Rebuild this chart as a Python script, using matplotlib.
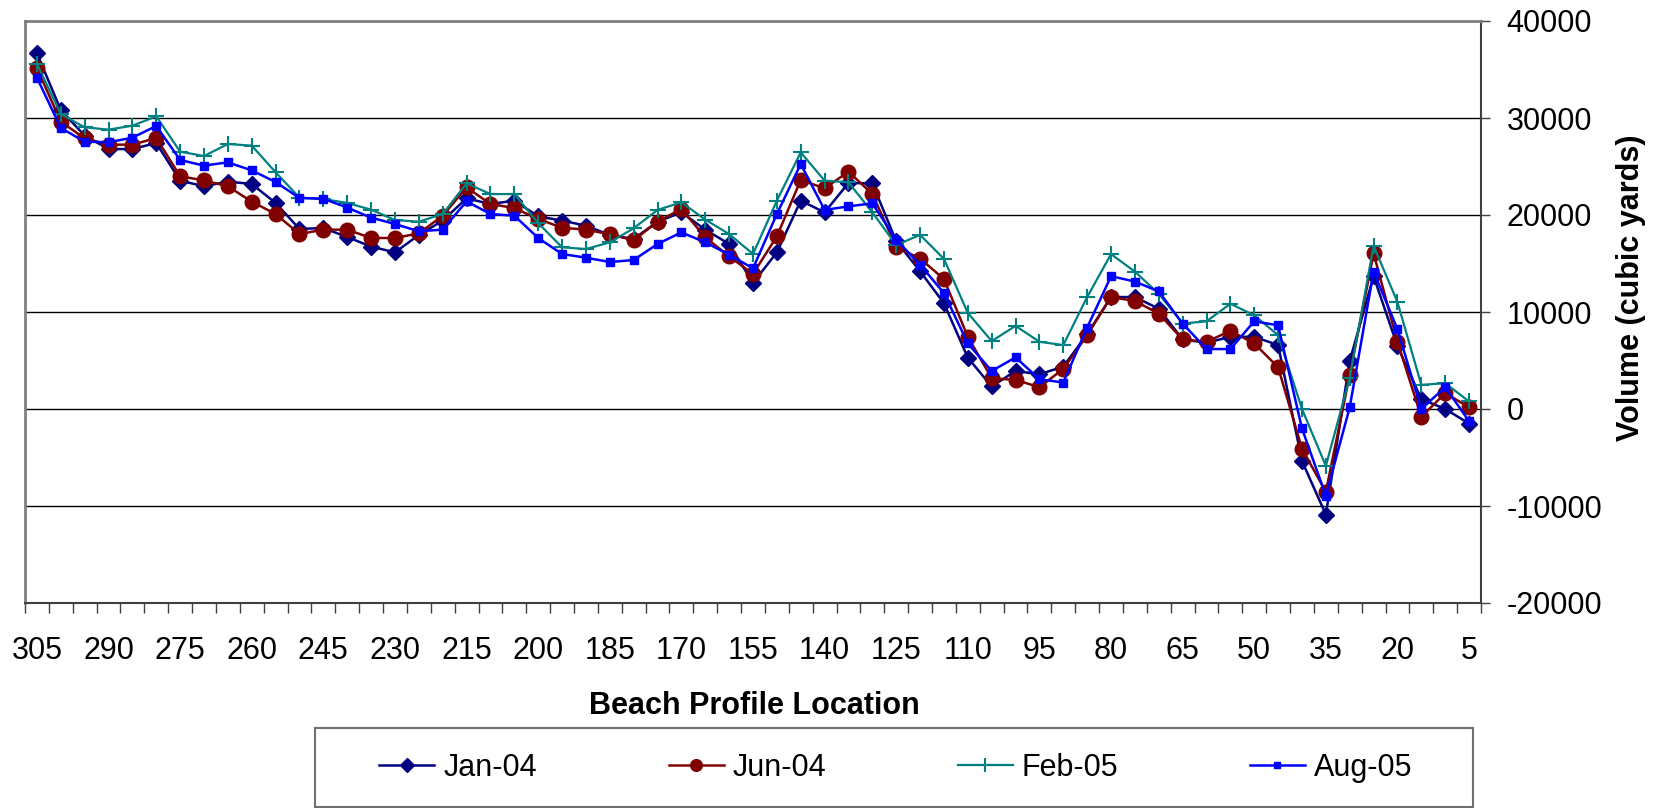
import matplotlib
matplotlib.use("Agg")
import matplotlib.pyplot as plt
from matplotlib.patches import Rectangle
import numpy as np

plt.rcParams['font.family'] = ['Liberation Sans', 'DejaVu Sans']
plt.rcParams['axes.unicode_minus'] = False

# beach profile locations, 305 down to 5
locations = list(range(305, 0, -5))

jan_04 = [36670, 30820, 28180, 26800, 26800, 27420, 23540, 22960, 23440, 23200,
          21240, 18560, 18660, 17730, 16740, 16150, 17940, 19420, 21720, 21130,
          21480, 19860, 19420, 18900, 17940, 17530, 19310, 20270, 18490, 17010,
          12990, 16150, 21480, 20270, 23300, 23260, 17300, 14200, 10900, 5290,
          2320, 3920, 3580, 4370, 7710, 11540, 11540, 10340, 7170, 6830,
          7440, 7440, 6590, -5360, -10890, 4950, 13690, 6480, 1020, 0, -1500]

jun_04 = [35150, 29620, 27900, 27250, 27250, 27940, 23990, 23570, 22960, 21370,
          20100, 18040, 18490, 18490, 17630, 17630, 18110, 19930, 22850, 21130,
          20720, 19590, 18690, 18490, 18010, 17390, 19310, 20620, 17700, 15740,
          13920, 17800, 23610, 22750, 24470, 22160, 16700, 15500, 13400, 7440,
          3170, 3000, 2250, 4130, 7610, 11540, 11130, 9830, 7170, 6930,
          8050, 6760, 4300, -4100, -8530, 3520, 16040, 6930, -820, 1640, 170]

feb_05 = [35570, 30410, 29040, 28800, 29210, 30170, 26530, 26080, 27320, 27150,
          24400, 21790, 21650, 21240, 20550, 19480, 19310, 20100, 23260, 22160,
          22160, 19170, 16670, 16490, 17180, 18630, 20520, 21310, 19520, 18040,
          15980, 21480, 26460, 23540, 23370, 20270, 16900, 17950, 15480, 9900,
          7000, 8570, 6930, 6590, 11540, 15970, 14160, 11880, 8810, 9040,
          10850, 9660, 7610, 0, -5870, 3240, 16830, 11020, 2490, 2660, 780]

aug_05 = [34160, 28970, 27560, 27500, 27970, 29180, 25670, 25090, 25430, 24600,
          23400, 21750, 21680, 20760, 19730, 19070, 18320, 18490, 21410, 20100,
          19930, 17630, 15980, 15600, 15150, 15360, 17010, 18210, 17180, 15910,
          14500, 20100, 25260, 20520, 20890, 21200, 17450, 14870, 11950, 6760,
          3920, 5320, 3070, 2730, 8400, 13690, 13140, 12120, 8810, 6180,
          6180, 9040, 8630, -2010, -8940, 170, 14160, 8230, 0, 2250, -1260]

x = np.arange(len(locations))
fs = 22

fig = plt.figure(figsize=(16.55, 8.08), dpi=100)
ax = fig.add_axes([25 / 1655, 1 - 603 / 808, 1456 / 1655, 582 / 808])

ax.plot(x, jan_04, color='#000080', marker='D', markersize=8.5, lw=1.8, label='Jan-04')
ax.plot(x, jun_04, color='#800000', marker='o', markersize=10.5, lw=1.8, label='Jun-04')
ax.plot(x, feb_05, color='#008080', marker='+', markersize=12, markeredgewidth=1.5,
        lw=1.6, label='Feb-05')
ax.plot(x, aug_05, color='#0000FF', marker='s', markersize=6, lw=1.8, label='Aug-05')

ax.set_xlim(-0.5, len(locations) - 0.5)
ax.set_ylim(-20000, 40000)

# category labels every third location, tick marks between categories
ax.set_xticks(x[::3])
ax.set_xticklabels([str(v) for v in locations[::3]])
ax.set_xticks(np.arange(-0.5, len(locations), 1), minor=True)
ax.tick_params(axis='x', which='major', length=0, labelsize=fs, pad=24)
ax.tick_params(axis='x', which='minor', length=7, width=1, color='#404040', direction='out')

ax.yaxis.tick_right()
ax.set_yticks(np.arange(-20000, 40001, 10000))
ax.tick_params(axis='y', length=6.5, width=1, color='#404040', direction='out',
               labelsize=fs, pad=12)

ax.grid(axis='y', color='black', lw=1)
ax.set_axisbelow(True)

for side in ['left', 'top']:
    ax.spines[side].set_color('#808080')
    ax.spines[side].set_linewidth(2)
for side in ['right', 'bottom']:
    ax.spines[side].set_color('#404040')
    ax.spines[side].set_linewidth(1.5)

fig.text(754 / 1655, 1 - 706 / 808, 'Beach Profile Location', fontsize=fs,
         fontweight='bold', ha='center', va='center')
fig.text(1631 / 1655, 1 - 288 / 808, 'Volume (cubic yards)', fontsize=fs,
         fontweight='bold', rotation=90, ha='center', va='center')

# legend entries without frame, box drawn separately
fig.legend(loc='center', bbox_to_anchor=(896 / 1655, 1 - 768 / 808),
           ncol=4, frameon=False, fontsize=fs, columnspacing=4.3,
           handlelength=1.8, handletextpad=0.3, markerscale=0.8)
fig.patches.append(Rectangle((315 / 1655, 1 - 807 / 808), 1158 / 1655, 79 / 808,
                             transform=fig.transFigure, fill=False,
                             edgecolor='#707070', lw=1.5))

fig.savefig('out.png', dpi=100)
